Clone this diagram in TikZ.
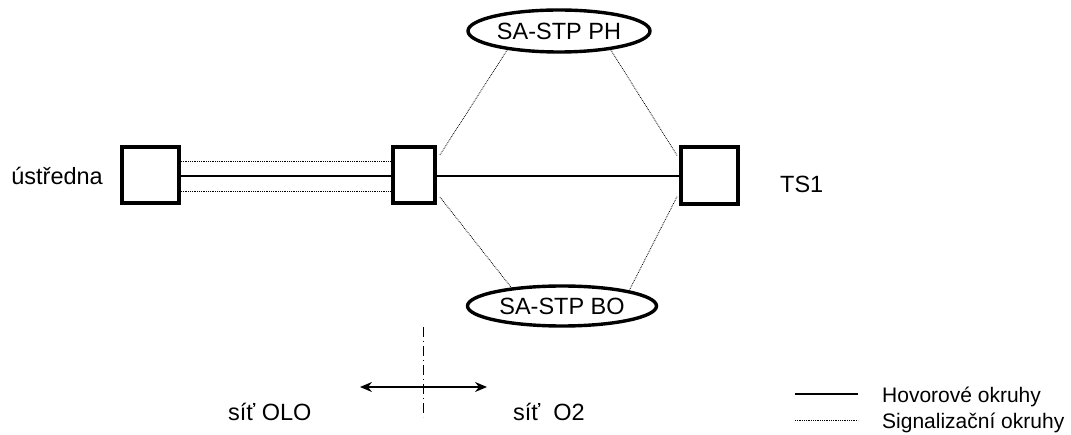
\documentclass[tikz,border=0pt]{standalone}
\usepackage{fontspec}
\setmainfont{Liberation Sans}
\usetikzlibrary{shapes.geometric,arrows.meta}
\begin{document}
\begin{tikzpicture}[x=1pt,y=1pt,
  box/.style={draw,line width=3.8pt,inner sep=0pt,rectangle},
  oval/.style={draw,ellipse,line width=3.4pt,inner sep=0pt,font=\fontsize{23.5}{28}\selectfont},
  lbl/.style={inner sep=0pt,font=\fontsize{23.5}{28}\selectfont},
  leg/.style={inner sep=0pt,font=\fontsize{21}{25}\selectfont},
  talk/.style={line width=2.3pt},
  sig/.style={densely dotted,line width=0.8pt},
  axis/.style={line width=1pt,dash pattern=on 10pt off 4pt on 1pt off 4pt},
  dirarrow/.style={line width=1.5pt,{Stealth[length=12pt,width=10pt,inset=4pt]}-{Stealth[length=12pt,width=10pt,inset=4pt]}}]
\useasboundingbox (0,0) rectangle (1071,434);
% boxes
\node[box,minimum width=57pt,minimum height=56pt] (L) at (150.5,259) {};
\node[box,minimum width=42pt,minimum height=56pt] (M) at (414,259) {};
\node[box,minimum width=57pt,minimum height=57pt] (R) at (709.5,258.5) {};
% ellipses
\node[oval,minimum width=182pt,minimum height=42pt] (PH) at (559,403) {SA-STP PH};
\node[oval,minimum width=189pt,minimum height=40pt] (BO) at (562,128) {SA-STP BO};
% talk circuits
\draw[talk] ([yshift=-1pt]L.east) -- ([yshift=-1pt]M.west);
\draw[talk] ([yshift=-1pt]M.east) -- ([yshift=-0.5pt]R.west);
% signalling circuits
\draw[sig] ([yshift=14pt]L.east) -- ([yshift=14pt]M.west);
\draw[sig] ([yshift=-16pt]L.east) -- ([yshift=-16pt]M.west);
\draw[sig] ([xshift=3pt,yshift=20pt]M.east) -- (PH.200);
\draw[sig] (PH.340) -- ([xshift=-2pt,yshift=20pt]R.west);
\draw[sig] ([xshift=3pt,yshift=-22pt]M.east) -- (BO.160);
\draw[sig] (BO.13) -- ([xshift=-2pt,yshift=-21pt]R.west);
% labels
\node[lbl,anchor=base east] (tU) at (103,249) {ústředna};
\node[lbl,anchor=base west] (tT) at (780,241) {TS1};
\node[lbl,anchor=base west] (tOLO) at (228,14) {síť OLO};
\node[lbl,anchor=base west] (tO2) at (513,14) {síť\ \ O2};
% border line and arrow
\coordinate (ax1) at (423,107);
\coordinate (ax2) at (423,17);
\draw[axis] (ax1) -- (ax2);
\coordinate (ar1) at (360,47);
\coordinate (ar2) at (487,47);
\draw[dirarrow] (ar1) -- (ar2);
% legend
\coordinate (g1a) at (795,40);
\coordinate (g1b) at (858,40);
\coordinate (g2a) at (795,14);
\coordinate (g2b) at (858,14);
\draw[talk] (g1a) -- (g1b);
\draw[sig] (g2a) -- (g2b);
\node[leg,anchor=base west] (lg1) at (882,32) {Hovorové okruhy};
\node[leg,anchor=base west] (lg2) at (882,6) {Signalizační okruhy};
\end{tikzpicture}
\end{document}
